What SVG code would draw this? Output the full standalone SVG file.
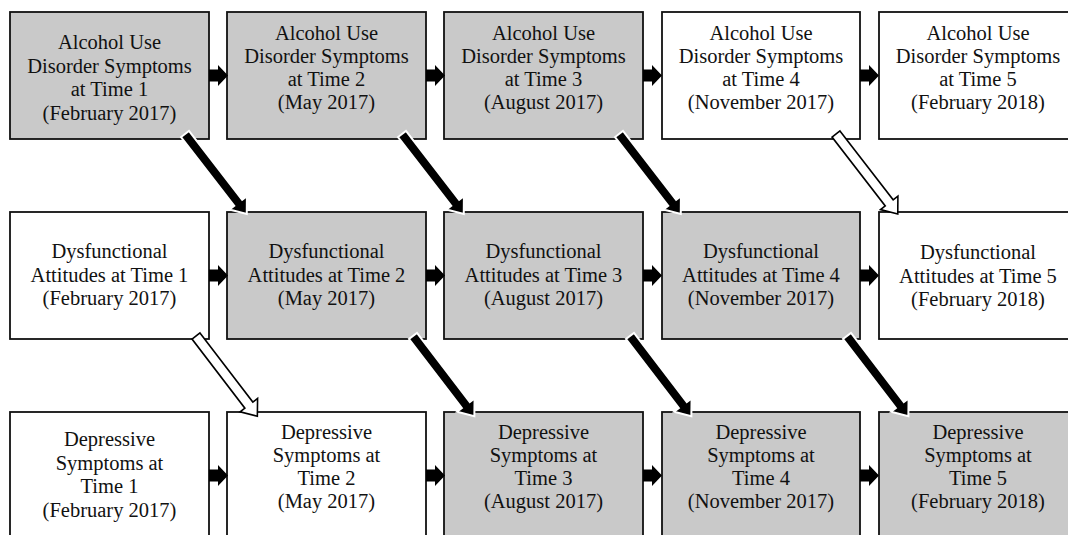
<svg xmlns="http://www.w3.org/2000/svg" xmlns:xlink="http://www.w3.org/1999/xlink" width="1068" height="535" viewBox="0 0 1068 535">
<style>
.box{stroke:#111;stroke-width:1.8}
.g{fill:#c9c9c9}
.w{fill:#fff}
text{font-size:20.5px;fill:#111;text-anchor:middle}
.solid{fill:#000;stroke:#fff;stroke-width:2;stroke-linejoin:miter}
.open{fill:#fff;stroke:#000;stroke-width:1.6;stroke-linejoin:miter}
.h{fill:#000}
</style>
<defs>
<path id="harrow" d="M0,-6 H9 V-10.5 L19,0 L9,10.5 V6 H0 Z"/>
<path id="darrow" d="M0,-5 H87 V-11 L101,0 L87,11 V5 H0 Z"/>
</defs>
<rect width="1068" height="535" fill="#fff"/>
<g font-family="Liberation Serif, Tinos, DejaVu Serif, serif">
<g id="A1"><rect class="box g" x="10" y="12" width="199" height="127"/><text x="109.5" y="49">Alcohol Use</text><text x="109.5" y="72.5">Disorder Symptoms</text><text x="109.5" y="96">at Time 1</text><text x="109.5" y="119.5">(February 2017)</text></g>
<g id="A2"><rect class="box g" x="227" y="12" width="199" height="127"/><text x="326.5" y="40">Alcohol Use</text><text x="326.5" y="63">Disorder Symptoms</text><text x="326.5" y="86">at Time 2</text><text x="326.5" y="109">(May 2017)</text></g>
<g id="A3"><rect class="box g" x="444" y="12" width="199" height="127"/><text x="543.5" y="40">Alcohol Use</text><text x="543.5" y="63">Disorder Symptoms</text><text x="543.5" y="86">at Time 3</text><text x="543.5" y="109">(August 2017)</text></g>
<g id="A4"><rect class="box w" x="662" y="12" width="198" height="127"/><text x="761" y="40">Alcohol Use</text><text x="761" y="63">Disorder Symptoms</text><text x="761" y="86">at Time 4</text><text x="761" y="109">(November 2017)</text></g>
<g id="A5"><rect class="box w" x="879" y="12" width="199" height="127"/><text x="978" y="40">Alcohol Use</text><text x="978" y="63">Disorder Symptoms</text><text x="978" y="86">at Time 5</text><text x="978" y="109">(February 2018)</text></g>

<g id="D1"><rect class="box w" x="10" y="212" width="199" height="127"/><text x="109.5" y="258">Dysfunctional</text><text x="109.5" y="281.5">Attitudes at Time 1</text><text x="109.5" y="305">(February 2017)</text></g>
<g id="D2"><rect class="box g" x="227" y="212" width="199" height="127"/><text x="326.5" y="258">Dysfunctional</text><text x="326.5" y="281.5">Attitudes at Time 2</text><text x="326.5" y="305">(May 2017)</text></g>
<g id="D3"><rect class="box g" x="444" y="212" width="199" height="127"/><text x="543.5" y="258">Dysfunctional</text><text x="543.5" y="281.5">Attitudes at Time 3</text><text x="543.5" y="305">(August 2017)</text></g>
<g id="D4"><rect class="box g" x="662" y="212" width="198" height="127"/><text x="761" y="258">Dysfunctional</text><text x="761" y="281.5">Attitudes at Time 4</text><text x="761" y="305">(November 2017)</text></g>
<g id="D5"><rect class="box w" x="879" y="212" width="199" height="127"/><text x="978" y="259">Dysfunctional</text><text x="978" y="282.5">Attitudes at Time 5</text><text x="978" y="306">(February 2018)</text></g>

<g id="S1"><rect class="box w" x="10" y="412" width="199" height="128"/><text x="109.5" y="446">Depressive</text><text x="109.5" y="469.5">Symptoms at</text><text x="109.5" y="493">Time 1</text><text x="109.5" y="516.5">(February 2017)</text></g>
<g id="S2"><rect class="box w" x="227" y="412" width="199" height="128"/><text x="326.5" y="439">Depressive</text><text x="326.5" y="462">Symptoms at</text><text x="326.5" y="485">Time 2</text><text x="326.5" y="508">(May 2017)</text></g>
<g id="S3"><rect class="box g" x="444" y="412" width="199" height="128"/><text x="543.5" y="438.5">Depressive</text><text x="543.5" y="461.5">Symptoms at</text><text x="543.5" y="485">Time 3</text><text x="543.5" y="508">(August 2017)</text></g>
<g id="S4"><rect class="box g" x="662" y="412" width="198" height="128"/><text x="761" y="438.5">Depressive</text><text x="761" y="461.5">Symptoms at</text><text x="761" y="485">Time 4</text><text x="761" y="508">(November 2017)</text></g>
<g id="S5"><rect class="box g" x="879" y="412" width="199" height="128"/><text x="978" y="438.5">Depressive</text><text x="978" y="461.5">Symptoms at</text><text x="978" y="485">Time 5</text><text x="978" y="508">(February 2018)</text></g>
</g>
<g id="connectors">
<use xlink:href="#harrow" class="h" x="209" y="75.5"/>
<use xlink:href="#harrow" class="h" x="426" y="75.5"/>
<use xlink:href="#harrow" class="h" x="643" y="75.5"/>
<use xlink:href="#harrow" class="h" x="860" y="75.5"/>
<use xlink:href="#harrow" class="h" x="209" y="275.5"/>
<use xlink:href="#harrow" class="h" x="426" y="275.5"/>
<use xlink:href="#harrow" class="h" x="643" y="275.5"/>
<use xlink:href="#harrow" class="h" x="860" y="275.5"/>
<use xlink:href="#harrow" class="h" x="209" y="475.5"/>
<use xlink:href="#harrow" class="h" x="426" y="475.5"/>
<use xlink:href="#harrow" class="h" x="643" y="475.5"/>
<use xlink:href="#harrow" class="h" x="860" y="475.5"/>

<use xlink:href="#darrow" class="solid" transform="translate(185,134) rotate(52.3)"/>
<use xlink:href="#darrow" class="solid" transform="translate(402,134) rotate(52.3)"/>
<use xlink:href="#darrow" class="solid" transform="translate(619,134) rotate(52.3)"/>
<use xlink:href="#darrow" class="open" transform="translate(836,134) rotate(52.3)"/>

<use xlink:href="#darrow" class="open" transform="translate(196,336) rotate(52.6)"/>
<use xlink:href="#darrow" class="solid" transform="translate(413,336) rotate(52.6)"/>
<use xlink:href="#darrow" class="solid" transform="translate(630,336) rotate(52.6)"/>
<use xlink:href="#darrow" class="solid" transform="translate(847,336) rotate(52.6)"/>
</g>
</svg>
